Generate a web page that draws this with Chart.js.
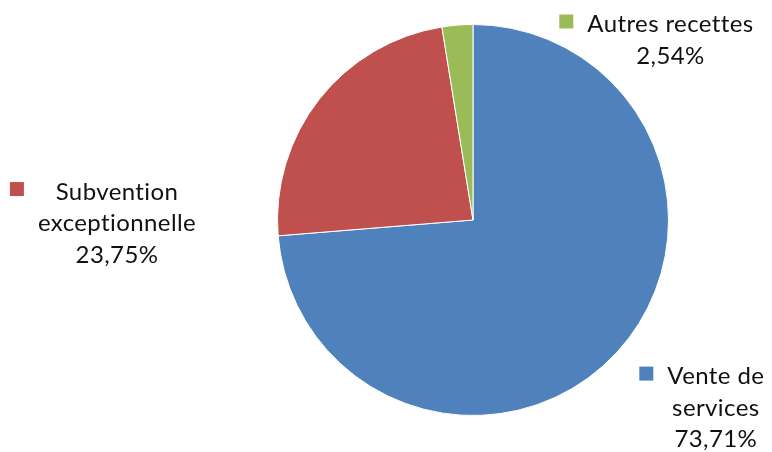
<!DOCTYPE html>
<html>
<head>
<meta charset="utf-8">
<script src="https://cdn.jsdelivr.net/npm/chart.js@4/dist/chart.umd.min.js"></script>
<style>
  html, body { margin: 0; padding: 0; background: #fff; }
  #graficoRecettes { display: block; }
</style>
</head>
<body>
<canvas id="graficoRecettes" width="772" height="452"></canvas>
<script>
// données du graphique
const categories = ['Vente de services', 'Subvention exceptionnelle', 'Autres recettes'];
const valeurs = [73.71, 23.75, 2.54];
// étiquettes affichées (découpage en lignes comme dans l'original)
const lignesEtiquettes = [
    ['Vente de', 'services', '73,71%'],
    ['Subvention', 'exceptionnelle', '23,75%'],
    ['Autres recettes', '2,54%']
];
const couleurs = ['#4F81BD', '#C0504D', '#9BBB59'];

// position des étiquettes (centre de la 1re ligne), relative au centre du camembert, en rayons
const positionsEtiquettes = [
    { dx: 1.242, dy: 0.801 },
    { dx: -1.821, dy: -0.143 },
    { dx: 1.010, dy: -1.000 }
];

const etiquettesPlugin = {
    id: 'etiquettes',
    afterDraw(chart) {
        const ctx = chart.ctx;
        const arcs = chart.getDatasetMeta(0).data;
        ctx.save();
        ctx.font = '24px Lato';
        ctx.letterSpacing = '0.4px';
        ctx.fillStyle = '#111';
        ctx.textAlign = 'center';
        ctx.textBaseline = 'middle';
        arcs.forEach((arc, i) => {
            const cx = arc.x + positionsEtiquettes[i].dx * arc.outerRadius;
            const cy = arc.y + positionsEtiquettes[i].dy * arc.outerRadius;
            const lignes = lignesEtiquettes[i];
            lignes.forEach((ligne, j) => {
                ctx.fillText(ligne, cx, cy + j * 31.5);
            });
            // petit carré de couleur à gauche du bloc de texte
            const larg = Math.max(...lignes.map(l => ctx.measureText(l).width));
            const xCarre = cx - larg / 2 - 14 - 14;
            ctx.fillStyle = couleurs[i];
            ctx.fillRect(xCarre, cy - 10, 14, 14);
            ctx.fillStyle = '#111';
        });
        ctx.restore();
    }
};

new Chart(document.getElementById('graficoRecettes').getContext('2d'), {
    type: 'pie',
    data: {
        labels: categories,
        datasets: [{
            data: valeurs,
            backgroundColor: couleurs,
            borderColor: '#ffffff',
            borderWidth: 1
        }]
    },
    options: {
        responsive: false,
        animation: false,
        layout: {
            padding: { left: 277, right: 103, top: 24, bottom: 36 }
        },
        plugins: {
            legend: { display: false },
            tooltip: { enabled: false }
        }
    },
    plugins: [etiquettesPlugin]
});
</script>
</body>
</html>
